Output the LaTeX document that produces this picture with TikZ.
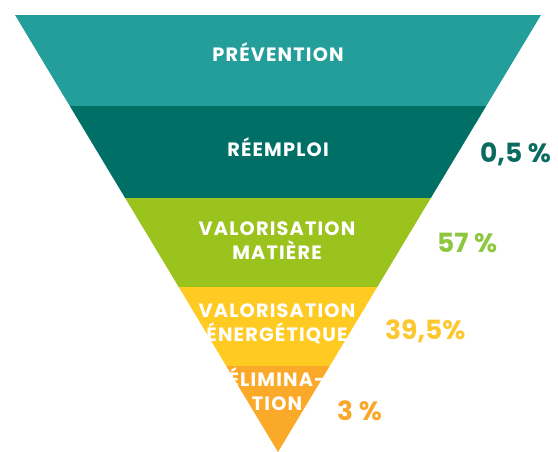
\documentclass[tikz,border=0pt]{standalone}
\usepackage{fontspec}
\setmainfont{Poppins}
\newfontfamily\bandfont{Poppins}[LetterSpace=6]
\definecolor{cPrev}{HTML}{239E9A}
\definecolor{cReem}{HTML}{006F66}
\definecolor{cMat}{HTML}{9BC31E}
\definecolor{cEne}{HTML}{FFCB22}
\definecolor{cElim}{HTML}{FBA928}
\definecolor{tReem}{HTML}{0B6B61}
\definecolor{tMat}{HTML}{8DC63F}
\definecolor{tEne}{HTML}{FDC72F}
\definecolor{tElim}{HTML}{F9A82B}
\tikzset{
  band/.style={text=white, font=\bandfont\bfseries\fontsize{19.3}{22}\selectfont, inner sep=0pt, anchor=base},
  pct/.style={font=\bfseries\fontsize{26.5}{30}\selectfont, inner sep=0pt, anchor=base west},
}
\begin{document}
\begin{tikzpicture}[x=1pt,y=-1pt]
\useasboundingbox (0,0) rectangle (558,452);
\begin{scope}
\clip (15,15) -- (541,15) -- (278,452) -- cycle;
\fill[cPrev] (0,15) rectangle (558,106);
\fill[cReem] (0,106) rectangle (558,198);
\fill[cMat] (0,198) rectangle (558,287);
\fill[cEne] (0,287) rectangle (558,366);
\fill[cElim] (0,366) rectangle (558,460);
\end{scope}
\node[band] (prev) at (278,61.7) {PRÉVENTION};
\node[band] (reem) at (278,156.7) {RÉEMPLOI};
\node[band] (vm1) at (277,236) {VALORISATION};
\node[band] (vm2) at (277,259.3) {MATIÈRE};
\node[band] (ve1) at (277,317.7) {VALORISATION};
\node[band] (ve2) at (277,341) {ÉNERGÉTIQUE};
\node[band] (el1) at (277,386) {ÉLIMINA-};
\node[band] (el2) at (277,410) {TION};
\node[pct, text=tReem] (p1) at (480,162.7) {0,5 \%};
\node[pct, text=tMat] (p2) at (437,252.7) {57 \%};
\node[pct, text=tEne] (p3) at (385,339.5) {39,5\%};
\node[pct, text=tElim] (p4) at (337,420) {3 \%};
\end{tikzpicture}
\end{document}
